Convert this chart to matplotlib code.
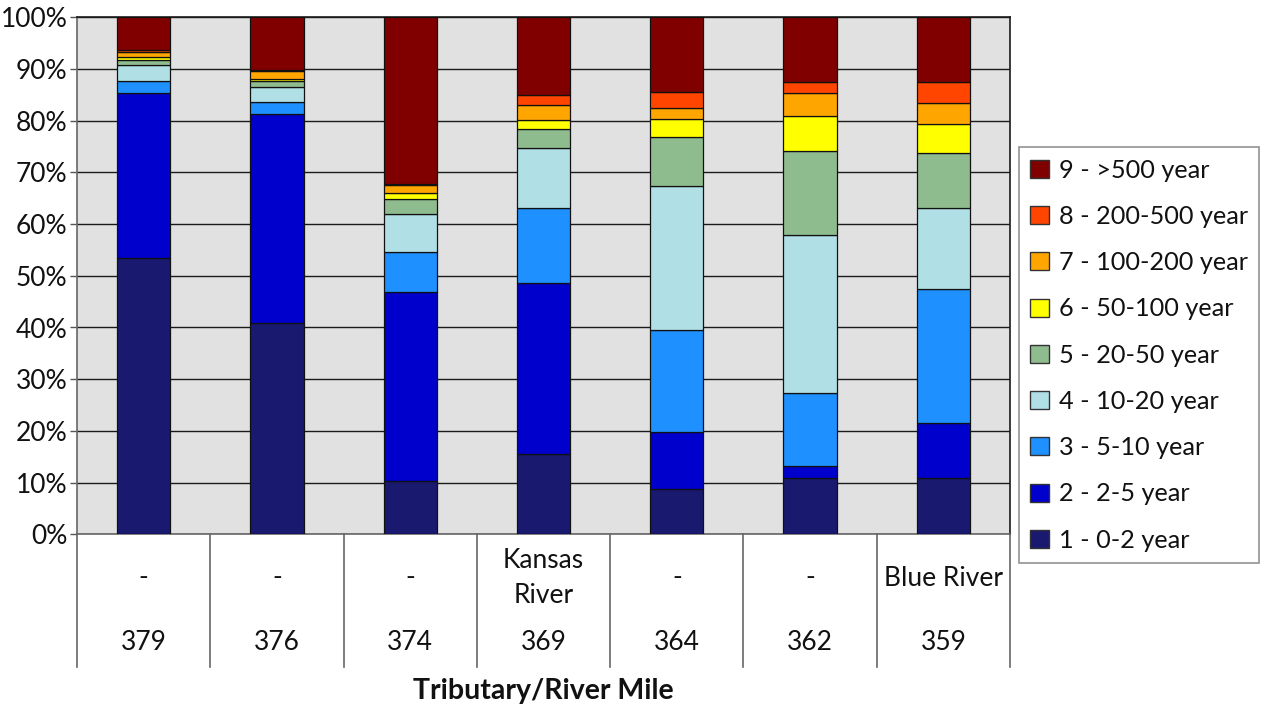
import matplotlib
matplotlib.use("Agg")
import matplotlib.pyplot as plt
import matplotlib.transforms as mtransforms
from matplotlib.patches import Patch
import numpy as np

plt.rcParams['font.family'] = ['Lato', 'DejaVu Sans']

# River miles and tributary names for each station
river_miles = ["379", "376", "374", "369", "364", "362", "359"]
tributaries = ["-", "-", "-", "Kansas\nRiver", "-", "-", "Blue River"]

# Return-period classes (bottom to top of each stack)
classes = ["1 - 0-2 year", "2 - 2-5 year", "3 - 5-10 year", "4 - 10-20 year",
           "5 - 20-50 year", "6 - 50-100 year", "7 - 100-200 year",
           "8 - 200-500 year", "9 - >500 year"]
class_colors = ["#191970", "#0000CD", "#1E90FF", "#B0E0E6", "#8FBC8F",
                "#FFFF00", "#FFA500", "#FF4500", "#800000"]

# Percent of each station in each class
pct_1 = [53.4, 40.8, 10.4, 15.6, 8.7, 10.8, 10.8]
pct_2 = [32.0, 40.4, 36.4, 33.1, 11.0, 2.4, 10.7]
pct_3 = [2.3, 2.5, 7.9, 14.4, 19.8, 14.1, 26.0]
pct_4 = [3.0, 2.9, 7.3, 11.7, 27.8, 30.5, 15.6]
pct_5 = [1.0, 1.1, 2.9, 3.5, 9.5, 16.4, 10.7]
pct_6 = [0.6, 0.3, 1.1, 1.8, 3.5, 6.8, 5.6]
pct_7 = [0.9, 1.7, 1.6, 3.0, 2.2, 4.3, 4.0]
pct_8 = [0.5, 0.2, 0.2, 1.8, 3.0, 2.2, 4.1]
pct_9 = [6.3, 10.1, 32.2, 15.1, 14.5, 12.5, 12.5]

series = [pct_1, pct_2, pct_3, pct_4, pct_5, pct_6, pct_7, pct_8, pct_9]

W, H = 1266, 709
fig = plt.figure(figsize=(W / 100, H / 100), dpi=100)
ax = fig.add_axes([77 / W, 1 - 534.3 / H, (1010 - 77) / W, (534.3 - 17.3) / H])

ax.set_facecolor("#E1E1E1")
x = np.arange(len(river_miles))
bottom = np.zeros(len(river_miles))
for vals, color in zip(series, class_colors):
    ax.bar(x, vals, width=0.4, bottom=bottom, color=color,
           edgecolor="#111111", linewidth=0.9, zorder=3)
    bottom += np.array(vals)

ax.set_xlim(-0.5, len(river_miles) - 0.5)
ax.set_ylim(0, 100)
ax.set_yticks(np.arange(0, 101, 10))
ax.set_yticklabels([f"{v}%" for v in range(0, 101, 10)], fontsize=19, color="#111111")
ax.yaxis.grid(True, color="#1a1a1a", linewidth=1.0, zorder=1)
ax.set_axisbelow(True)
ax.tick_params(axis="y", length=5, width=1, color="#555555", pad=2)
ax.set_xticks([])
for side in ["left", "bottom"]:
    ax.spines[side].set_color("#666666")
for side in ["top", "right"]:
    ax.spines[side].set_color("#1a1a1a")
for s in ax.spines.values():
    s.set_linewidth(1.2)

# Category table beneath the axis
trans = mtransforms.blended_transform_factory(ax.transData, ax.transAxes)
table_depth = (666.7 - 534.3) / (534.3 - 17.3)
for b in np.arange(-0.5, len(river_miles), 1.0):
    ax.plot([b, b], [0, -table_depth], transform=trans, color="#666666",
            linewidth=1.2, clip_on=False)

row1_y = -(578 - 534.3) / (534.3 - 17.3)
row2_y = -(643 - 534.3) / (534.3 - 17.3)
for xi, (trib, rm) in enumerate(zip(tributaries, river_miles)):
    ax.text(xi, row1_y, trib, transform=trans, ha="center", va="center",
            fontsize=19, color="#111111", linespacing=1.5)
    ax.text(xi, row2_y, rm, transform=trans, ha="center", va="center",
            fontsize=19, color="#111111")

fig.text(543.5 / W, 1 - 691 / H, "Tributary/River Mile", ha="center", va="center",
         fontsize=20.5, fontweight="bold", color="#111111")

handles = [Patch(facecolor=c, edgecolor="#333333", linewidth=1.0)
           for c in class_colors][::-1]
leg = fig.legend(handles, classes[::-1], loc="upper left",
                 bbox_to_anchor=(1019 / W, 1 - 147.3 / H), fontsize=18.2,
                 frameon=True, fancybox=False, edgecolor="#777777",
                 handlelength=0.72, handleheight=0.72, handletextpad=0.4,
                 labelspacing=0.92, borderpad=0.45, borderaxespad=0)
leg.get_frame().set_linewidth(1.2)
for t in leg.get_texts():
    t.set_color("#111111")

fig.savefig("out.png", dpi=100)
